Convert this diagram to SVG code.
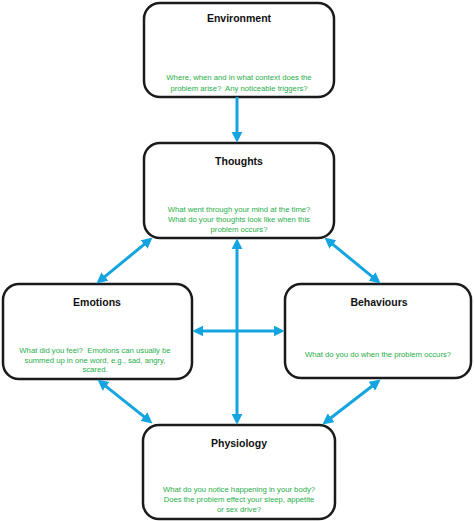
<svg xmlns="http://www.w3.org/2000/svg" width="474" height="521" viewBox="0 0 474 521">
<style>
.box{fill:#fff;stroke:#1a1a1a;stroke-width:2.5}
.t{font-family:"Liberation Sans",Arial,sans-serif;font-weight:bold;font-size:10.5px;fill:#111;text-anchor:middle}
.g{font-family:"Liberation Sans",Arial,sans-serif;font-size:7.7px;fill:#1fae4a;text-anchor:middle;white-space:pre}
.c{fill:none;stroke:#14a5e0;stroke-width:3}
</style>
<defs>
<marker id="ah" markerUnits="userSpaceOnUse" markerWidth="11" markerHeight="11" viewBox="0 0 10 10" refX="3" refY="5" orient="auto-start-reverse">
<path d="M0,0 L10,5 L0,10 z" fill="#14a5e0"/>
</marker>
</defs>
<g id="environment">
<rect class="box" x="144" y="3" width="190" height="94" rx="16"/>
<text class="t" x="239" y="22">Environment</text>
<text class="g" x="239" y="80">Where, when and in what context does the</text>
<text class="g" x="239" y="91" xml:space="preserve">problem arise?  Any noticeable triggers?</text>
</g>
<g id="thoughts">
<rect class="box" x="144" y="143" width="190" height="95" rx="16"/>
<text class="t" x="239" y="165">Thoughts</text>
<text class="g" x="239" y="212">What went through your mind at the time?</text>
<text class="g" x="239" y="222">What do your thoughts look like when this</text>
<text class="g" x="239" y="232">problem occurs?</text>
</g>
<g id="emotions">
<rect class="box" x="3" y="284" width="189" height="95" rx="16"/>
<text class="t" x="97" y="306">Emotions</text>
<text class="g" x="95" y="353" xml:space="preserve">What did you feel?  Emotions can usually be</text>
<text class="g" x="95" y="363">summed up in one word, e.g., sad, angry,</text>
<text class="g" x="95" y="372">scared.</text>
</g>
<g id="behaviours">
<rect class="box" x="285" y="284" width="186" height="94" rx="16"/>
<text class="t" x="379" y="306">Behaviours</text>
<text class="g" x="378" y="357">What do you do when the problem occurs?</text>
</g>
<g id="physiology">
<rect class="box" x="143" y="425" width="192" height="94" rx="16"/>
<text class="t" x="239" y="447">Physiology</text>
<text class="g" x="239" y="492">What do you notice happening in your body?</text>
<text class="g" x="239" y="502">Does the problem effect your sleep, appetite</text>
<text class="g" x="239" y="512">or sex drive?</text>
</g>
<g id="connectors">
<path class="c" d="M237,97 L237,135" marker-end="url(#ah)"/>
<path class="c" d="M237,246 L237,417" marker-start="url(#ah)" marker-end="url(#ah)"/>
<path class="c" d="M200,331 L277,331" marker-start="url(#ah)" marker-end="url(#ah)"/>
<path class="c" d="M146.6,242.4 L102.4,278.6" marker-start="url(#ah)" marker-end="url(#ah)"/>
<path class="c" d="M330.4,242.4 L374.6,278.6" marker-start="url(#ah)" marker-end="url(#ah)"/>
<path class="c" d="M103.5,384.4 L146.5,418.6" marker-start="url(#ah)" marker-end="url(#ah)"/>
<path class="c" d="M374.5,384.3 L328.5,419.7" marker-start="url(#ah)" marker-end="url(#ah)"/>
</g>
</svg>
